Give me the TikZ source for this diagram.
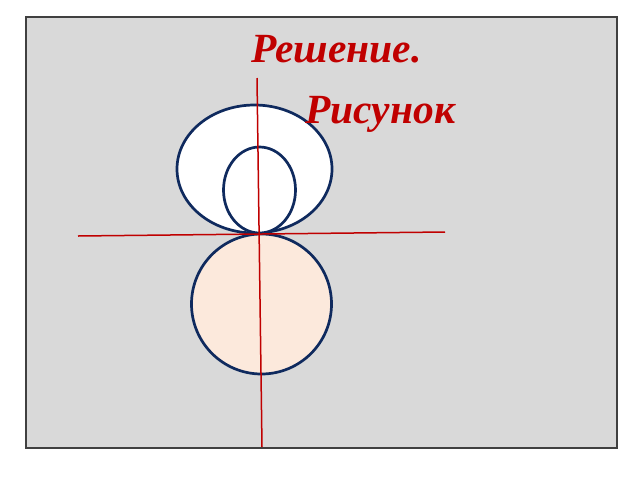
\documentclass[tikz,border=0pt]{standalone}
\usepackage{fontspec}
\setmainfont{Liberation Serif}
\usetikzlibrary{positioning}

\definecolor{slidegray}{HTML}{D9D9D9}
\definecolor{framegray}{HTML}{404040}
\definecolor{curveblue}{HTML}{0F2A5E}
\definecolor{axisred}{HTML}{C00000}
\definecolor{peach}{HTML}{FCE9DC}

\begin{document}
\begin{tikzpicture}[
    x=1pt, y=-1pt,
    curve/.style={draw=curveblue, line width=2.7pt},
    axis/.style={draw=axisred, line width=1.5pt},
    title/.style={font=\fontsize{41.5}{45}\selectfont\bfseries\itshape, text=axisred, inner sep=0pt, anchor=base west}
]
\useasboundingbox (0,0) rectangle (640,480);

% Slide background
\draw[fill=slidegray, draw=framegray, line width=1.6pt] (26,17) rectangle (617,448);

% Curves
\draw[curve, fill=white] (254.5,169) ellipse [x radius=77.5, y radius=64];
\draw[curve, fill=white] (259.5,190) ellipse [x radius=36, y radius=43];
\draw[curve, fill=peach] (261.5,304) circle [radius=70];

% Axes
\coordinate (ytop) at (257,78);
\coordinate (ybot) at (262,447);
\coordinate (xleft) at (78,236);
\coordinate (xright) at (445,232);
\draw[axis] (ytop) -- (ybot);
\draw[axis] (xleft) -- (xright);

% Titles
\node[title] (solution) at (251,62) {Решение.};
\node[title] (picture) at (305,123) {Рисунок};

\end{tikzpicture}
\end{document}
